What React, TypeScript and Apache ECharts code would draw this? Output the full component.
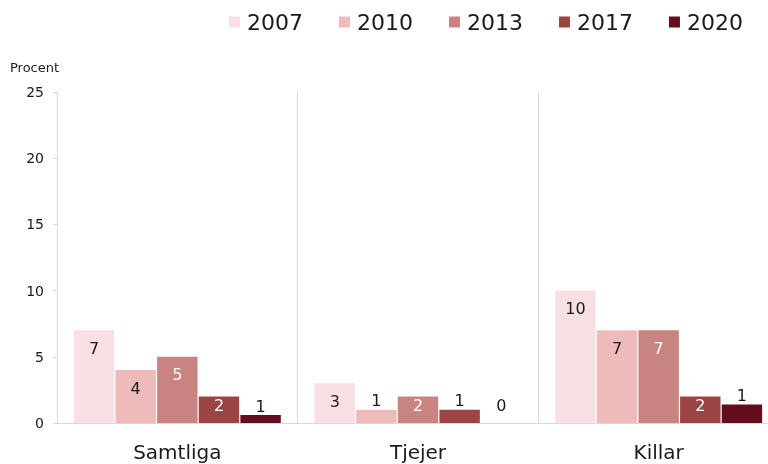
import React, { useEffect, useRef } from "react";
import * as echarts from "echarts";

const categories = ["Samtliga", "Tjejer", "Killar"];
const years = ["2007", "2010", "2013", "2017", "2020"];
const v2007 = [7, 3, 10];
const v2010 = [4, 1, 7];
const v2013 = [5, 2, 7];
const v2017 = [2, 1, 2];
const v2020 = [0.6, 0, 1.4];
const yTicks = [0, 5, 10, 15, 20, 25];

const colors = ["#f8dfe3", "#eebbba", "#c98481", "#9a4543", "#640d1e"];
const labelColors = ["#1a1a1a", "#1a1a1a", "#ffffff", "#ffffff", "#1a1a1a"];
const seriesValues = [v2007, v2010, v2013, v2017, v2020];

export default function App() {
  const ref = useRef<HTMLDivElement>(null);
  useEffect(() => {
    if (!ref.current) return;
    const chart = echarts.init(ref.current, undefined, { renderer: "svg" });
    const font = "'DejaVu Sans', sans-serif";
    const series = years.map((y, si) => ({
      name: y,
      type: "bar",
      barGap: "3%",
      barCategoryGap: "14%",
      itemStyle: { color: colors[si] },
      data: seriesValues[si].map((v) => {
        let label: any;
        if (v >= 2.5) {
          label = { position: "insideTop", distance: 10, color: labelColors[si] };
        } else if (v >= 1.5) {
          label = { position: "inside", offset: [0, -4], color: labelColors[si] };
        } else if (v > 0) {
          label = { position: "top", distance: 1, color: "#1a1a1a" };
        } else {
          label = { position: "top", distance: 1, offset: [0, -9], color: "#1a1a1a" };
        }
        return { value: v, label };
      }),
      label: {
        show: true,
        fontSize: 16,
        fontFamily: font,
        formatter: (p: any) => String(Math.round(p.value)),
      },
    }));
    chart.setOption({
      animation: false,
      textStyle: { fontFamily: font },
      legend: {
        data: years,
        left: 224,
        top: 6,
        itemWidth: 11,
        itemHeight: 11,
        itemGap: 36,
        icon: "rect",
        textStyle: { fontSize: 22, color: "#1a1a1a", fontFamily: font, padding: [0, 0, 0, 2] },
      },
      graphic: [
        {
          type: "text",
          left: 10,
          top: 61,
          style: { text: "Procent", fontSize: 13, fill: "#1a1a1a", fontFamily: font },
        },
      ],
      grid: { left: 57, right: 0, top: 92, bottom: 41 },
      xAxis: {
        type: "category",
        data: categories,
        axisLine: { show: true, lineStyle: { color: "#d9d9d9", width: 1 } },
        axisTick: { show: false },
        splitLine: { show: true, interval: 0, lineStyle: { color: "#d9d9d9", width: 1 } },
        axisLabel: { fontSize: 20, color: "#1a1a1a", margin: 19, fontFamily: font },
      },
      yAxis: {
        type: "value",
        min: yTicks[0],
        max: yTicks[yTicks.length - 1],
        interval: 5,
        axisLine: { show: true, lineStyle: { color: "#d9d9d9", width: 1 } },
        axisTick: { show: true, length: 4, lineStyle: { color: "#d9d9d9" } },
        splitLine: { show: false },
        axisLabel: { fontSize: 14, color: "#1a1a1a", margin: 13, fontFamily: font },
      },
      series,
    });
    return () => chart.dispose();
  }, []);
  return (
    <div
      style={{
        position: "fixed",
        left: 0,
        top: 0,
        width: 768,
        height: 464,
        overflow: "hidden",
      }}
    >
      <div ref={ref} style={{ width: 779, height: 464 }} />
    </div>
  );
}
